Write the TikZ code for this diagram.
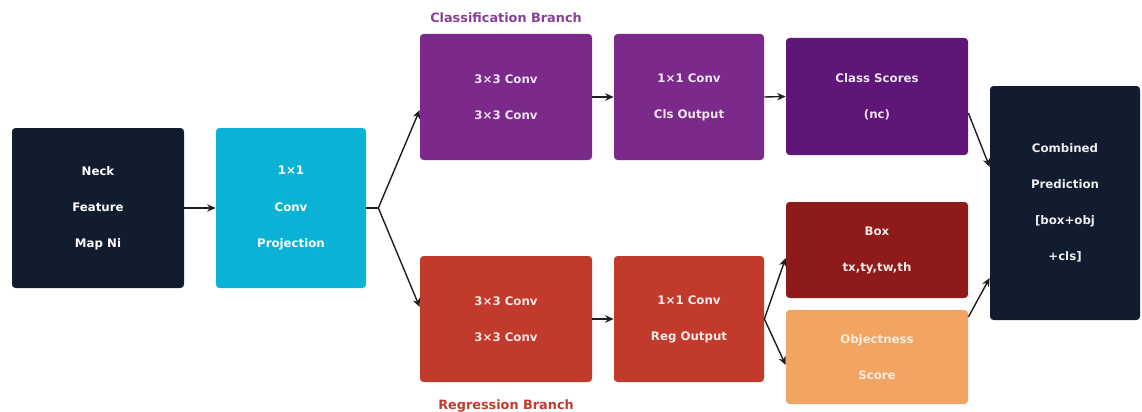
\documentclass[tikz,border=0pt]{standalone}
\usepackage{fontspec}
\setmainfont{DejaVu Sans}
\usepackage{tikz}
\usetikzlibrary{arrows.meta,positioning,calc}
\usepackage{xcolor}
\definecolor{headnavy}{RGB}{17,28,46}
\definecolor{headcyan}{RGB}{10,178,214}
\definecolor{clspurple}{RGB}{123,42,140}
\definecolor{clsdark}{RGB}{94,22,120}
\definecolor{regred}{RGB}{194,58,43}
\definecolor{regdark}{RGB}{142,26,26}
\definecolor{objorange}{RGB}{242,164,98}
\definecolor{arrowgrey}{RGB}{30,30,34}

\begin{document}
\begin{tikzpicture}[
    box/.style={rectangle, rounded corners=2pt, align=center, text=white,
                font=\fontsize{6.7pt}{20.5pt}\selectfont\bfseries, inner sep=2pt},
    branch/.style={font=\fontsize{7.3pt}{8pt}\selectfont\bfseries},
    arr/.style={-{Stealth[length=1.7mm,width=1.5mm]}, thick, arrowgrey}
]
\useasboundingbox (0,0) rectangle (22.84,8.22);

% input and projection
\node[box, fill=headnavy, minimum width=3.44cm, minimum height=3.2cm] (neck) at (1.96,4.06) {Neck\\Feature\\Map Ni};
\node[box, fill=headcyan, minimum width=3.0cm, minimum height=3.2cm] (proj) at (5.82,4.06) {1×1\\Conv\\Projection};

% classification branch
\node[box, fill=clspurple, text=clspurple!12, minimum width=3.44cm, minimum height=2.52cm] (clsconv) at (10.12,6.28) {3×3 Conv\\3×3 Conv};
\node[box, fill=clspurple, text=clspurple!12, minimum width=3.0cm, minimum height=2.52cm] (clsout) at (13.78,6.28) {1×1 Conv\\Cls Output};
\node[box, fill=clsdark, text=clsdark!12, minimum width=3.64cm, minimum height=2.34cm] (clsscore) at (17.54,6.29) {Class Scores\\(nc)};
\node[branch, text=clspurple!90] (clslabel) at (10.12,7.86) {Classification Branch};

% regression branch
\node[box, fill=regred, text=regred!12, minimum width=3.44cm, minimum height=2.52cm] (regconv) at (10.12,1.84) {3×3 Conv\\3×3 Conv};
\node[box, fill=regred, text=regred!10, minimum width=3.0cm, minimum height=2.52cm] (regout) at (13.78,1.84) {1×1 Conv\\Reg Output};
\node[box, fill=regdark, text=regdark!10, minimum width=3.64cm, minimum height=1.92cm] (boxreg) at (17.54,3.22) {Box\\tx,ty,tw,th};
\node[box, fill=objorange, text=objorange!20, minimum width=3.64cm, minimum height=1.88cm] (objness) at (17.54,1.08) {Objectness\\Score};
\node[branch, text=regred] (reglabel) at (10.12,0.1) {Regression Branch};

% output
\node[box, fill=headnavy, text=headnavy!8, minimum width=3.0cm, minimum height=4.68cm] (combined) at (21.30,4.16) {Combined\\Prediction\\{[box+obj}\\+cls]};

\coordinate (fork) at ($(proj.east)+(0.24,0)$);

\draw[arr] (neck.east) -- (proj.west);
\draw[thick, arrowgrey] (proj.east) -- (fork);
\draw[arr] (fork) -- ($(clsconv.west)+(0,-0.26)$);
\draw[arr] (fork) -- ($(regconv.west)+(0,0.24)$);
\draw[arr] (clsconv.east) -- (clsout.west);
\draw[arr] (clsout.east) -- (clsscore.west);
\draw[arr] (regconv.east) -- (regout.west);
\draw[arr] (regout.east) -- ($(boxreg.west)+(0,-0.16)$);
\draw[arr] (regout.east) -- ($(objness.west)+(0,-0.16)$);
\draw[arr] ($(clsscore.east)+(0,-0.33)$) -- ($(combined.west)+(0,0.72)$);
\draw[arr] ($(objness.east)+(0,0.80)$) -- ($(combined.west)+(0,-1.50)$);
\end{tikzpicture}
\end{document}
